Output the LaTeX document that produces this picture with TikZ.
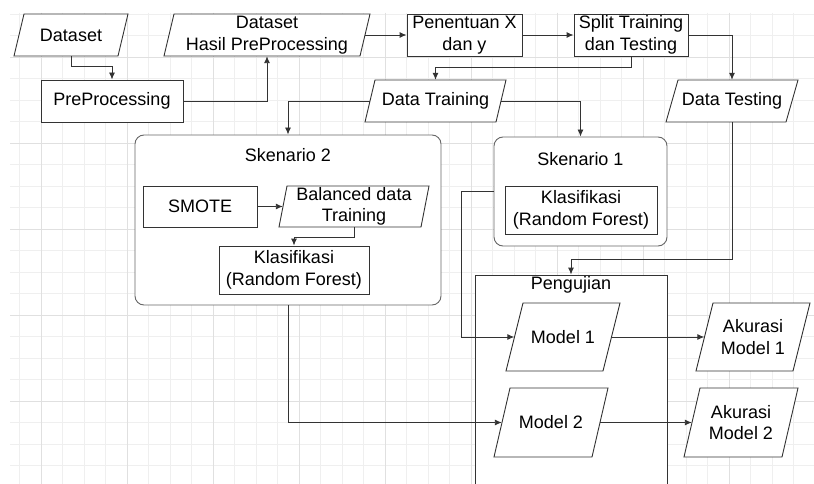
\documentclass[tikz,border=0pt]{standalone}
\usepackage{fontspec}
\setmainfont{Liberation Sans}
\usetikzlibrary{arrows.meta,calc}
\definecolor{ink}{HTML}{333333}
\definecolor{frame}{HTML}{666666}
\definecolor{gmin}{HTML}{EFEFEF}
\definecolor{gmaj}{HTML}{E0E0E0}
\tikzset{
  lbl/.style={text=black, font=\fontsize{18}{21.5}\selectfont, align=center, inner sep=0pt},
  box/.style={lbl, draw=ink, line width=0.9pt, fill=white},
  para/.style={lbl},
  parashape/.style={draw=ink, line width=0.9pt, fill=white},
  cont/.style={draw=frame, line width=0.9pt, fill=white, rounded corners=9pt, inner sep=0pt},
  plain/.style={draw=ink, line width=0.9pt, fill=white, inner sep=0pt},
  title/.style={lbl, anchor=base},
  arr/.style={draw=ink, line width=0.9pt, -{Latex[length=7pt,width=6pt]}},
  gridmin/.style={draw=gmin, line width=0.8pt},
  gridmaj/.style={draw=gmaj, line width=0.8pt}
}
% name, cx, cy, w, h, skew, text
\newcommand\parabox[7]{%
  \filldraw[parashape] ({#2-#4/2+#6},{#3-#5/2}) -- ({#2+#4/2},{#3-#5/2})
     -- ({#2+#4/2-#6},{#3+#5/2}) -- ({#2-#4/2},{#3+#5/2}) -- cycle;
  \node[para, minimum width=#4pt, minimum height=#5pt] (#1) at (#2,#3) {#7};
}
\begin{document}
\begin{tikzpicture}[x=1pt,y=-1pt]
\useasboundingbox (0,0) rectangle (814,484);
\clip (0,0) rectangle (814,484);
\fill[white] (0,0) rectangle (814,484);
% grid
\foreach \i in {0,...,37} \draw[gridmin] ({19.5+21.5*\i},13) -- ({19.5+21.5*\i},484);
\foreach \j in {0,...,22} \draw[gridmin] (10,{14+21.5*\j}) -- (814,{14+21.5*\j});
\foreach \i in {0,...,9} \draw[gridmaj] ({41+86*\i},13) -- ({41+86*\i},484);
\foreach \j in {0,...,5} \draw[gridmaj] (10,{57+86*\j}) -- (814,{57+86*\j});

% containers
\node[cont, minimum width=306pt, minimum height=170pt] (sk2) at (288,220) {};
\node[title] (sk2t) at (288,161.5) {Skenario 2};
\node[cont, minimum width=173pt, minimum height=109pt] (sk1) at (580.5,191.5) {};
\node[title] (sk1t) at (580.5,165) {Skenario 1};
\node[plain, minimum width=192pt, minimum height=215pt] (peng) at (571,382.5) {};
\node[title] (pengt) at (571,289) {Pengujian};

% top row
\parabox{ds}{71}{35}{114}{42}{10}{Dataset}
\node[box, minimum width=142pt, minimum height=42pt] (pre) at (112,101) {PreProcessing};
\parabox{dsh}{267}{35}{206}{42}{10}{Dataset\\Hasil PreProcessing}
\node[box, minimum width=115pt, minimum height=42pt] (pxy) at (464.5,35) {Penentuan X\\dan y};
\node[box, minimum width=114pt, minimum height=42pt] (split) at (631,35) {Split Training\\dan Testing};
\parabox{dtr}{435.5}{101}{141}{42}{10}{Data Training}
\parabox{dte}{732}{101}{132}{42}{12}{Data Testing}

% skenario 2 content
\node[box, minimum width=114pt, minimum height=41pt] (smote) at (200,206.5) {SMOTE};
\parabox{bal}{354}{206.5}{150}{41}{8}{Balanced data\\Training}
\node[box, minimum width=150pt, minimum height=48pt] (kl2) at (294,270) {Klasifikasi\\(Random Forest)};

% skenario 1 content
\node[box, minimum width=152pt, minimum height=48pt] (kl1) at (581,210) {Klasifikasi\\(Random Forest)};

% pengujian content
\parabox{m1}{563}{337}{114}{68}{17}{Model 1}
\parabox{m2}{551}{422.5}{114}{69}{16}{Model 2}
\parabox{ak1}{753}{337}{114}{68}{17}{Akurasi\\Model 1}
\parabox{ak2}{741}{422.5}{114}{69}{16}{Akurasi\\Model 2}

% connectors
\draw[arr] (ds.south) -- ++(0,10) -| (pre.north);
\draw[arr] (pre.east) -| (dsh.south);
\draw[arr] ([xshift=-5pt]dsh.east) -- (pxy.west);
\draw[arr] (pxy.east) -- (split.west);
\draw[arr] (split.south) -- ++(0,11) -| (dtr.north);
\draw[arr] (split.east) -| (dte.north);
\draw[arr] ([xshift=5pt]dtr.west) -| (sk2.north);
\draw[arr] ([xshift=-5pt]dtr.east) -| (sk1.north);
\draw[arr] (smote.east) -- ([xshift=4pt]bal.west);
\draw[arr] (bal.south) -- ++(0,10) -| (kl2.north);
\draw[arr] (sk1.west) -- ++(-32,0) |- ([xshift=8.5pt]m1.west);
\draw[arr] (sk2.south) |- ([xshift=8pt]m2.west);
\draw[arr] (dte.south) -- ++(0,137) -| (peng.north);
\draw[arr] ([xshift=-8.5pt]m1.east) -- ([xshift=8.5pt]ak1.west);
\draw[arr] ([xshift=-8pt]m2.east) -- ([xshift=8pt]ak2.west);
\end{tikzpicture}
\end{document}
